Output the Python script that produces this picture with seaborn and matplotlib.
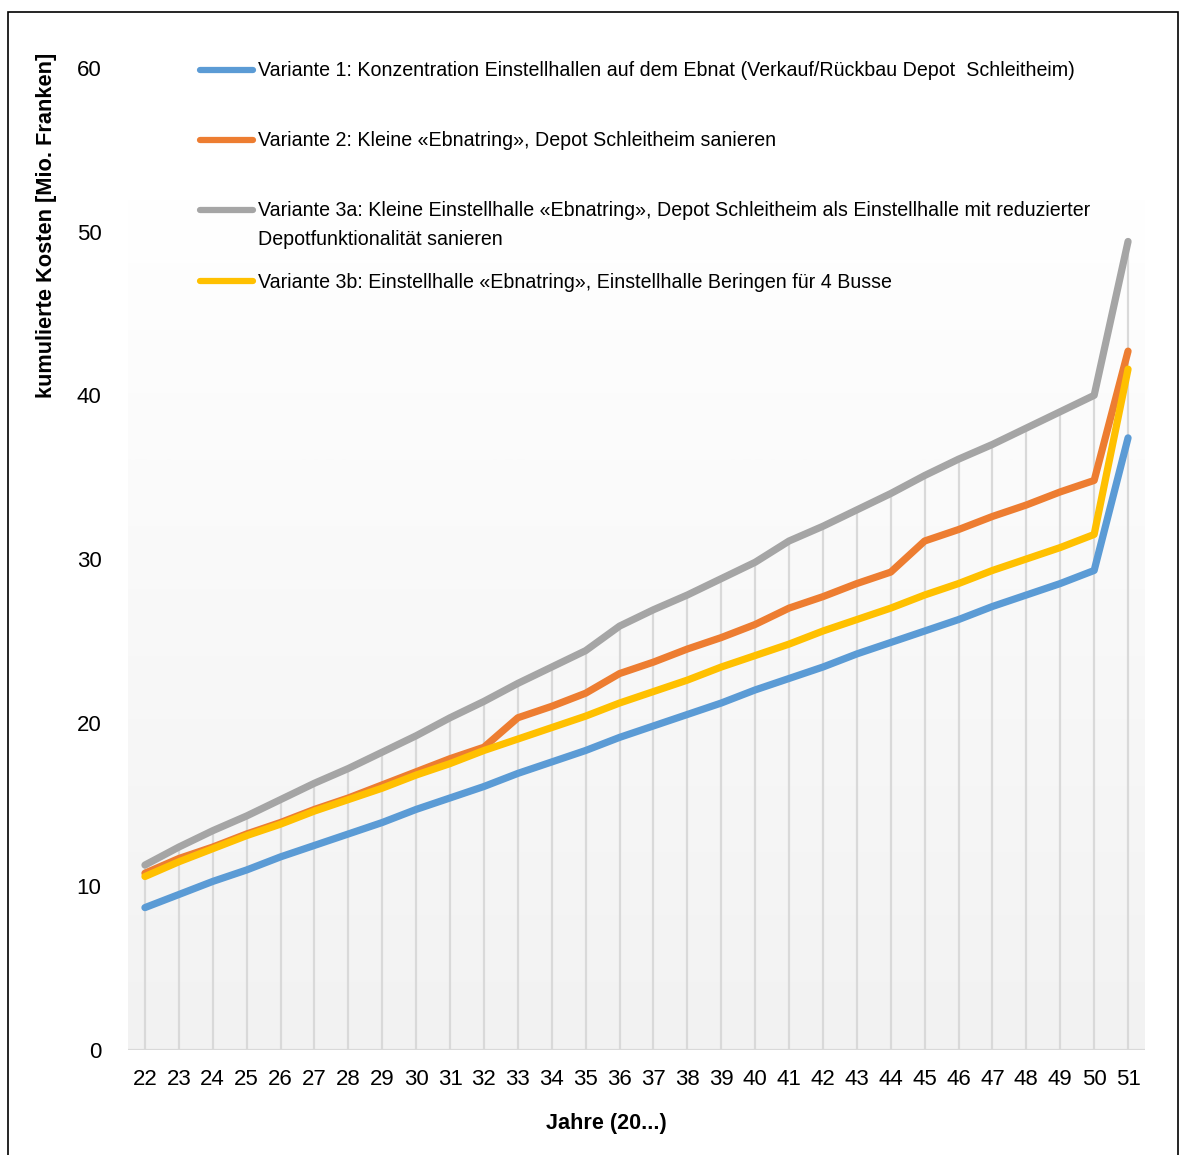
import numpy as np
import pandas as pd
import matplotlib
matplotlib.use("Agg")
import matplotlib.pyplot as plt
from matplotlib.lines import Line2D
from matplotlib.patches import Rectangle
import seaborn as sns

# Jahre 2022 bis 2051
years = list(range(22, 52))

# Kumulierte Kosten in Mio. Franken
v1 = [8.7, 9.5, 10.3, 11.0, 11.8, 12.5, 13.2, 13.9, 14.7, 15.4, 16.1, 16.9, 17.6, 18.3, 19.1,
      19.8, 20.5, 21.2, 22.0, 22.7, 23.4, 24.2, 24.9, 25.6, 26.3, 27.1, 27.8, 28.5, 29.3, 37.4]
v2 = [10.8, 11.7, 12.4, 13.2, 13.9, 14.7, 15.4, 16.2, 17.0, 17.8, 18.5, 20.3, 21.0, 21.8, 23.0,
      23.7, 24.5, 25.2, 26.0, 27.0, 27.7, 28.5, 29.2, 31.1, 31.8, 32.6, 33.3, 34.1, 34.8, 42.7]
v3a = [11.3, 12.4, 13.4, 14.3, 15.3, 16.3, 17.2, 18.2, 19.2, 20.3, 21.3, 22.4, 23.4, 24.4, 25.9,
       26.9, 27.8, 28.8, 29.8, 31.1, 32.0, 33.0, 34.0, 35.1, 36.1, 37.0, 38.0, 39.0, 40.0, 49.4]
v3b = [10.6, 11.5, 12.3, 13.1, 13.8, 14.6, 15.3, 16.0, 16.8, 17.5, 18.3, 19.0, 19.7, 20.4, 21.2,
       21.9, 22.6, 23.4, 24.1, 24.8, 25.6, 26.3, 27.0, 27.8, 28.5, 29.3, 30.0, 30.7, 31.5, 41.6]

labels = [
    "Variante 1: Konzentration Einstellhallen auf dem Ebnat (Verkauf/Rückbau Depot  Schleitheim)",
    "Variante 2: Kleine «Ebnatring», Depot Schleitheim sanieren",
    "Variante 3a: Kleine Einstellhalle «Ebnatring», Depot Schleitheim als Einstellhalle mit reduzierter\nDepotfunktionalität sanieren",
    "Variante 3b: Einstellhalle «Ebnatring», Einstellhalle Beringen für 4 Busse",
]
colors = ["#5b9bd5", "#ed7d31", "#a5a5a5", "#ffc000"]
series = [v1, v2, v3a, v3b]

df = pd.DataFrame({
    "Jahr": years * 4,
    "Kosten": v1 + v2 + v3a + v3b,
    "Variante": sum([[lab] * len(years) for lab in labels], []),
})

sns.set_theme(style="white")
plt.rcParams["font.family"] = ["Liberation Sans", "DejaVu Sans"]
plt.rcParams["text.color"] = "black"

fig = plt.figure(figsize=(11.82, 11.55), dpi=100)
W, H = 1182, 1155
ax = fig.add_axes([128 / W, 1 - 1050 / H, (1145 - 128) / W, (1050 - 68) / H])
ax.set_facecolor("none")

ymax_bg = 52.2
ax.set_xlim(21.5, 51.5)
ax.set_ylim(0, 60)

# Hintergrund mit Farbverlauf (weiss oben, hellgrau unten)
grad = np.linspace(0, 1, 256).reshape(-1, 1)
cmap = matplotlib.colors.LinearSegmentedColormap.from_list("bg", ["#f2f2f2", "#ffffff"])
ax.imshow(grad, extent=[21.5, 51.5, 0, ymax_bg], origin="lower", aspect="auto",
          cmap=cmap, zorder=0, interpolation="bilinear")

# Lotlinien bis zum jeweils höchsten Wert
tops = np.max(np.array(series), axis=0)
ax.vlines(years, 0, tops, colors="#d9d9d9", linewidth=1.6, zorder=1)
ax.axhline(0, color="#d9d9d9", linewidth=1.6, zorder=1)

sns.lineplot(data=df, x="Jahr", y="Kosten", hue="Variante", hue_order=labels,
             palette=colors, linewidth=5.2, ax=ax, legend=False, zorder=3,
             solid_capstyle="round", solid_joinstyle="round")

for s in ax.spines.values():
    s.set_visible(False)

ax.set_xticks(years)
ax.set_xticklabels([str(y) for y in years])
ax.set_yticks([0, 10, 20, 30, 40, 50, 60])
ax.tick_params(axis="both", length=0, labelsize=16, colors="black")
ax.tick_params(axis="y", pad=19)
ax.tick_params(axis="x", pad=14)
ax.set_xlabel("")
ax.set_ylabel("")
fig.text(606 / W, 1 - 1123 / H, "Jahre (20...)", ha="center", va="center",
         fontsize=15.6, fontweight="bold")
fig.text(47 / W, 1 - 225 / H, "kumulierte Kosten [Mio. Franken]", rotation=90,
         ha="center", va="center", fontsize=15.7, fontweight="bold")

# Legende
rows_y = [71, 141, 225, 282]
for lab, col, yy in zip(labels, colors, rows_y):
    ky = yy - 14 if "\n" in lab else yy
    fig.add_artist(Line2D([200 / W, 253 / W], [1 - (ky - 1) / H, 1 - (ky - 1) / H], color=col,
                          linewidth=4.5, solid_capstyle="round", transform=fig.transFigure))
    fig.text(258 / W, 1 - yy / H, lab, ha="left", va="center",
             fontsize=14.1, linespacing=1.7, transform=fig.transFigure)

# Rahmen des Diagrammbereichs
fig.add_artist(Rectangle((8 / W, -0.05), (1178 - 8) / W, 1.05 - 12 / H,
                         transform=fig.transFigure, fill=False, edgecolor="black", linewidth=1.2))

fig.savefig("out.png", dpi=100)
